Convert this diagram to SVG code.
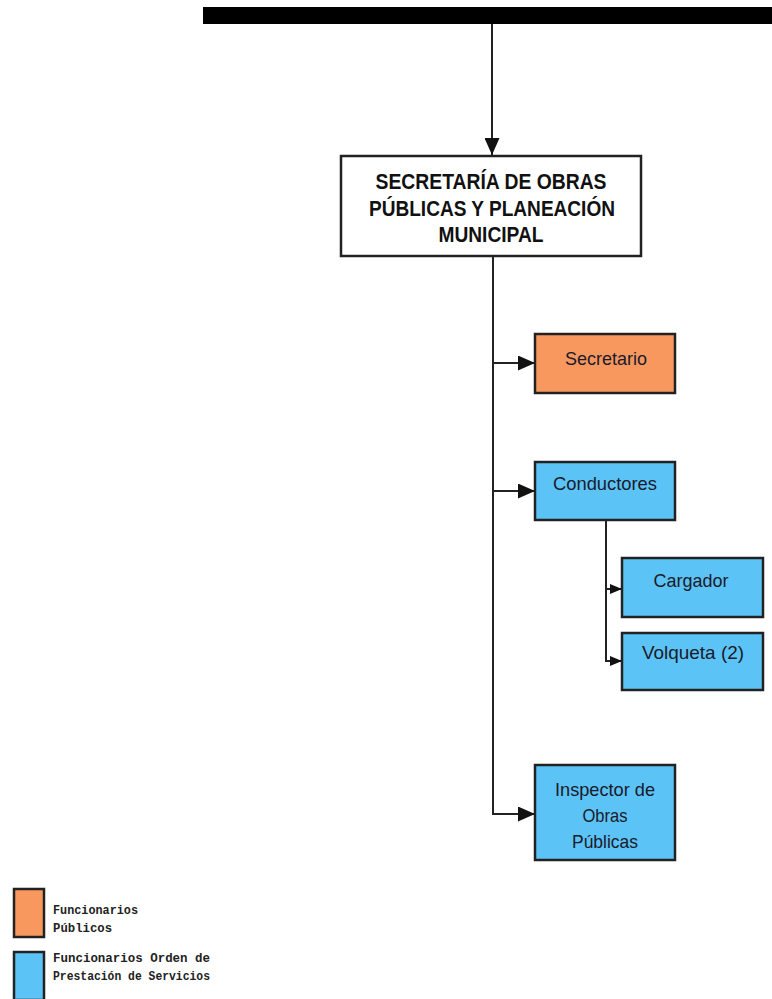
<svg xmlns="http://www.w3.org/2000/svg" width="772" height="999" viewBox="0 0 772 999">
<defs>
<marker id="ah" markerWidth="17" markerHeight="15" refX="17" refY="7.5" orient="auto" markerUnits="userSpaceOnUse"><path d="M0,0 L17,7.5 L0,15 Z" fill="#111"/></marker>
<marker id="ahs" markerWidth="12" markerHeight="10" refX="12" refY="5" orient="auto" markerUnits="userSpaceOnUse"><path d="M0,0 L12,5 L0,10 Z" fill="#111"/></marker>
<style>
.box{stroke:#222;stroke-width:2.5}
.or{fill:#F8985F}
.bl{fill:#5CC3F6}
.wh{fill:#fff}
.ln{stroke:#222;stroke-width:2;fill:none}
.t{font-family:"Liberation Sans",Arial,sans-serif;font-size:19px;fill:#1a1a2a;text-anchor:middle}
.tt{font-family:"Liberation Sans",Arial,sans-serif;font-size:22px;font-weight:bold;fill:#111;text-anchor:middle}
.lg{font-family:"Liberation Mono","Courier New",monospace;font-size:12px;font-weight:bold;fill:#222}
</style>
</defs>
<rect x="203" y="7" width="569" height="17" fill="#000"/>
<g id="connectors">
<line class="ln" x1="492" y1="24" x2="492" y2="155" marker-end="url(#ah)"/>
<polyline class="ln" points="493,256 493,815"/>
<line class="ln" x1="493" y1="363" x2="535" y2="363" marker-end="url(#ah)"/>
<line class="ln" x1="493" y1="491" x2="535" y2="491" marker-end="url(#ah)"/>
<polyline class="ln" points="493,814 535,814" marker-end="url(#ah)"/>
<polyline class="ln" points="606,520 606,662"/>
<line class="ln" x1="606" y1="589" x2="622" y2="589" marker-end="url(#ahs)"/>
<line class="ln" x1="606" y1="661" x2="622" y2="661" marker-end="url(#ahs)"/>
</g>
<g id="secretaria">
<rect class="box wh" x="341" y="156" width="300" height="100"/>
<text class="tt" x="491" y="189" textLength="231" lengthAdjust="spacingAndGlyphs">SECRETARÍA DE OBRAS</text>
<text class="tt" x="492" y="216" textLength="246" lengthAdjust="spacingAndGlyphs">PÚBLICAS Y PLANEACIÓN</text>
<text class="tt" x="491" y="242" textLength="105" lengthAdjust="spacingAndGlyphs">MUNICIPAL</text>
</g>
<g id="secretario">
<rect class="box or" x="535" y="334" width="140" height="59"/>
<text class="t" x="606" y="365" textLength="82" lengthAdjust="spacingAndGlyphs">Secretario</text>
</g>
<g id="conductores">
<rect class="box bl" x="535" y="462" width="140" height="58"/>
<text class="t" x="605" y="490" textLength="104" lengthAdjust="spacingAndGlyphs">Conductores</text>
</g>
<g id="cargador">
<rect class="box bl" x="622" y="558" width="141" height="59"/>
<text class="t" x="691" y="587" textLength="75" lengthAdjust="spacingAndGlyphs">Cargador</text>
</g>
<g id="volqueta">
<rect class="box bl" x="622" y="633" width="141" height="57"/>
<text class="t" x="693" y="659" textLength="102" lengthAdjust="spacingAndGlyphs">Volqueta (2)</text>
</g>
<g id="inspector">
<rect class="box bl" x="535" y="765" width="140" height="95"/>
<text class="t" x="605" y="796" textLength="100" lengthAdjust="spacingAndGlyphs">Inspector de</text>
<text class="t" x="605" y="822" textLength="45" lengthAdjust="spacingAndGlyphs">Obras</text>
<text class="t" x="605" y="848" textLength="66" lengthAdjust="spacingAndGlyphs">Públicas</text>
</g>
<g id="legend">
<rect class="box or" x="14" y="889" width="30" height="48" stroke-width="2"/>
<rect class="box bl" x="14" y="952" width="30" height="48" stroke-width="2"/>
<text class="lg" x="53" y="914" textLength="85" lengthAdjust="spacingAndGlyphs">Funcionarios</text>
<text class="lg" x="53" y="932" textLength="59" lengthAdjust="spacingAndGlyphs">Públicos</text>
<text class="lg" x="53" y="962" textLength="157" lengthAdjust="spacingAndGlyphs">Funcionarios Orden de</text>
<text class="lg" x="53" y="980" textLength="157" lengthAdjust="spacingAndGlyphs">Prestación de Servicios</text>
</g>
</svg>
